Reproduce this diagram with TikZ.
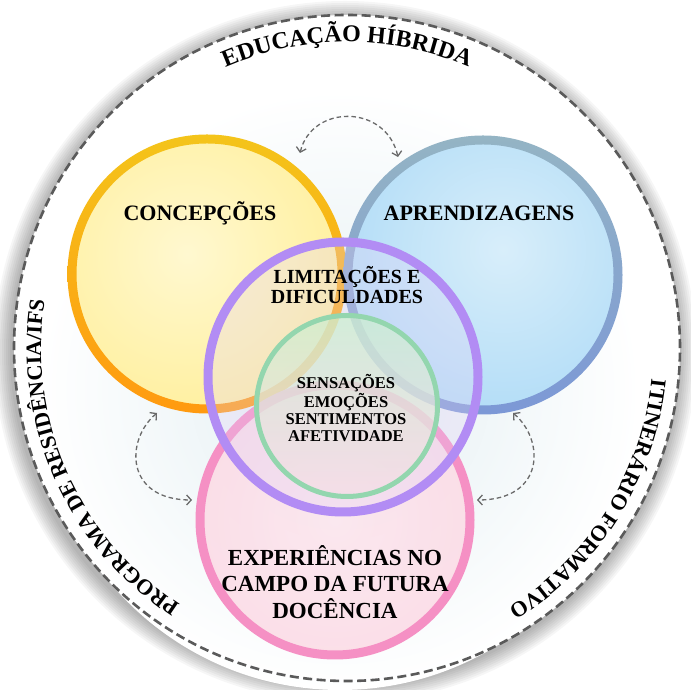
\documentclass[tikz,border=0pt]{standalone}
\usepackage{fontspec}
\setmainfont{Liberation Serif}
\usetikzlibrary{decorations.text,arrows.meta,calc}
\definecolor{dashgray}{HTML}{5A5A5A}
\definecolor{arrgray}{HTML}{6A6A6A}
\definecolor{yTop}{HTML}{F4C41A}
\definecolor{yBot}{HTML}{FF9A10}
\definecolor{yIn}{HTML}{FFF8D0}
\definecolor{yOut}{HTML}{FFF0A0}
\definecolor{bTop}{HTML}{94B4C4}
\definecolor{bBot}{HTML}{7C98D6}
\definecolor{bIn}{HTML}{D8EEFA}
\definecolor{bOut}{HTML}{B3DDF7}
\definecolor{pkRing}{HTML}{F590C4}
\definecolor{pkIn}{HTML}{FDE6EE}
\definecolor{pkOut}{HTML}{FCDAE5}
\definecolor{puRing}{HTML}{B28CF4}
\definecolor{puFill}{HTML}{E4D2F6}
\definecolor{gRing}{HTML}{93D6AE}
\definecolor{gTop}{HTML}{CDEFD0}
\definecolor{gBot}{HTML}{F6DDE6}
\definecolor{glow}{HTML}{E2EEF2}
\newcommand\arcfnt{\bfseries\fontsize{24}{24}\selectfont}
\newcommand\sidefnt{\bfseries\fontsize{22}{22}\selectfont}
\tikzset{
  lbl/.style={font=\bfseries\fontsize{22}{24}\selectfont, align=center, text=black},
  lblmid/.style={font=\bfseries\fontsize{20}{20}\selectfont, align=center, text=black},
  lblsmall/.style={font=\bfseries\fontsize{16.5}{16.8}\selectfont, align=center, text=black},
  lblbig/.style={font=\bfseries\fontsize{23}{26.5}\selectfont, align=center, text=black},
  conn/.style={draw=arrgray, line width=1.3pt, dash pattern=on 4.5pt off 3pt,
    {Straight Barb[length=4.5pt,width=10pt]}-{Straight Barb[length=4.5pt,width=10pt]}},
  outer/.style={draw=dashgray, line width=2.6pt, dash pattern=on 9pt off 4.5pt}
}
\begin{document}
\begin{tikzpicture}[x=1pt,y=1pt]
\useasboundingbox (0,0) rectangle (691,690);
\fill[white] (0,0) rectangle (691,690);
\coordinate (O) at (347,342);
\coordinate (Y) at (207,416);
\coordinate (B) at (483,415);
\coordinate (P) at (343,313);
\coordinate (G) at (347,284);
\coordinate (K) at (335,170);
% shadow of outer circle
\foreach \i in {1,...,9}{
  \fill[black, opacity=0.035] ($(O)+(-2,-4)$) circle ({333+2*\i});
}
\fill[white] (O) circle (333);
\shade[inner color=glow, outer color=white] (340,300) circle (300);
\draw[outer] (O) circle (333);
% yellow
\begin{scope}
\clip (Y) circle (135);
\shade[inner color=yIn, outer color=yOut] ($(Y)+(-20,20)$) circle (160);
\end{scope}
\path[even odd rule, top color=yTop, bottom color=yBot] (Y) circle (139.5) (Y) circle (130.5);
% blue
\begin{scope}
\clip (B) circle (135);
\shade[inner color=bIn, outer color=bOut] ($(B)+(20,25)$) circle (165);
\end{scope}
\path[even odd rule, top color=bTop, bottom color=bBot] (B) circle (139.5) (B) circle (130.5);
% pink
\shade[inner color=pkIn, outer color=pkOut, opacity=0.85] (K) circle (134);
\path[even odd rule, fill=pkRing] (K) circle (139.5) (K) circle (130.5);
% purple
\fill[puFill, opacity=0.3] (P) circle (134);
\path[even odd rule, fill=puRing] (P) circle (139.5) (P) circle (130.5);
% green
\shade[top color=gTop, bottom color=gBot, opacity=0.75] (G) circle (90);
\path[even odd rule, fill=gRing] (G) circle (93) (G) circle (88);
% labels
\node[lbl] (tC) at (200,477) {CONCEPÇÕES};
\node[lbl] (tA) at (479,477) {APRENDIZAGENS};
\node[lblmid] (tL) at (347,405) {LIMITAÇÕES E\\DIFICULDADES};
\node[lblsmall] (tS) at (346,282) {SENSAÇÕES\\EMOÇÕES\\SENTIMENTOS\\AFETIVIDADE};
\node[lblbig] (tE) at (335,108) {EXPERIÊNCIAS NO\\CAMPO DA FUTURA\\DOCÊNCIA};
% arc texts
\path[decorate, decoration={text along path, text align=center,
  text={|\arcfnt|EDUCAÇÃO HÍBRIDA}}]
  (O) ++(130:306) arc[start angle=130, end angle=50, radius=306];
\path[decorate, decoration={text along path, text align=center,
  text={|\sidefnt|PROGRAMA DE RESIDÊNCIA/IFS}}]
  (O) ++(250:306) arc[start angle=250, end angle=158, radius=306];
\path[decorate, decoration={text along path, text align=center,
  text={|\sidefnt|ITINERÁRIO FORMATIVO}}]
  (O) ++(14:306) arc[start angle=14, end angle=-78, radius=306];
% arrows
\coordinate (a1) at (300,537);
\coordinate (a2) at (398,533);
\coordinate (b1) at (157,277);
\coordinate (b2) at (192,190);
\coordinate (c1) at (513,277);
\coordinate (c2) at (477,190);
\draw[conn] (a1) .. controls (312,586) and (386,586) .. (a2);
\draw[conn] (b1) .. controls (125,250) and (125,190) .. (b2);
\draw[conn] (c1) .. controls (545,250) and (545,190) .. (c2);
\end{tikzpicture}
\end{document}
